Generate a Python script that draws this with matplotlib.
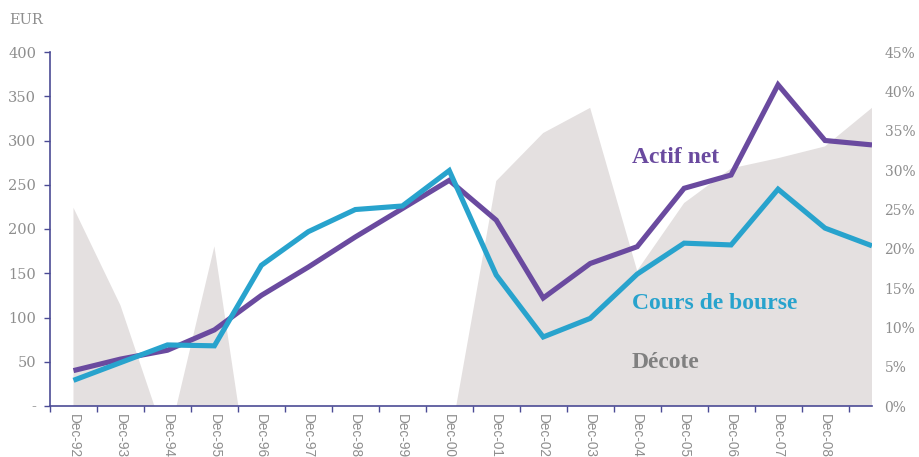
import matplotlib
matplotlib.use("Agg")
import matplotlib.pyplot as plt
import numpy as np

categories = ["Dec-92", "Dec-93", "Dec-94", "Dec-95", "Dec-96", "Dec-97", "Dec-98",
              "Dec-99", "Dec-00", "Dec-01", "Dec-02", "Dec-03", "Dec-04", "Dec-05",
              "Dec-06", "Dec-07", "Dec-08", ""]
actif_net = [40, 53, 63, 86, 125, 157, 191, 223, 255, 210, 122, 161, 180, 246, 261, 363, 300, 295]
cours_bourse = [29, 49, 69, 68, 159, 197, 222, 226, 266, 148, 78, 99, 149, 184, 182, 245, 201, 181]
decote = [25.2, 12.8, -4.9, 20.3, -19.5, -25, -16, -2, -5, 28.6, 34.7, 37.9, 17.2, 25.8,
          30.2, 31.5, 33.0, 37.9]
left_ticks = [0, 50, 100, 150, 200, 250, 300, 350, 400]
left_labels = ["-", "50", "100", "150", "200", "250", "300", "350", "400"]
right_ticks = [0, 5, 10, 15, 20, 25, 30, 35, 40, 45]
right_labels = ["0%", "5%", "10%", "15%", "20%", "25%", "30%", "35%", "40%", "45%"]

PURPLE = "#6A4A9F"
BLUE = "#28A3CD"
AREA = "#E4E0E0"
AXIS = "#4B4B95"
GREY = "#8E8E8E"

W, H = 920, 457
fig = plt.figure(figsize=(W / 100, H / 100), dpi=100)
ax = fig.add_axes([50 / W, 1 - 406 / H, (872 - 50) / W, (406 - 52) / H])
ax2 = ax.twinx()

x = np.arange(len(categories))

# area (decote) on right axis
ax2.fill_between(x, 0, decote, color=AREA, linewidth=0, zorder=1)
ax2.set_ylim(0, 45)
ax2.set_yticks(right_ticks)
ax2.set_yticklabels(right_labels, family="DejaVu Serif", fontsize=10, color=GREY)
ax2.tick_params(axis="y", which="major", length=0, pad=9)
ax2.set_yticks([0], minor=True)
ax2.tick_params(axis="y", which="minor", length=7, width=1.2, color=AXIS, direction="out")
for s in ax2.spines.values():
    s.set_visible(False)

# lines on left axis
ax.set_zorder(ax2.get_zorder() + 1)
ax.patch.set_visible(False)
ax.plot(x, actif_net, color=PURPLE, lw=3.7, solid_joinstyle="miter", solid_capstyle="butt", zorder=3)
ax.plot(x, cours_bourse, color=BLUE, lw=3.7, solid_joinstyle="miter", solid_capstyle="butt", zorder=4)

ax.set_xlim(-0.5, len(categories) - 1)
ax.set_ylim(0, 400)
ax.set_yticks(left_ticks)
ax.set_yticklabels(left_labels, family="DejaVu Serif", fontsize=10.5, color=GREY)
ax.tick_params(axis="y", length=4, width=1, color=AXIS, pad=6)

ax.set_xticks(x[:-1])
ax.set_xticklabels(categories[:-1], rotation=270, fontsize=9.8, color=GREY,
                   family="Liberation Sans", ha="center", va="top")
ax.tick_params(axis="x", which="major", length=0, pad=6)
ax.set_xticks(np.arange(-0.5, len(categories) - 1, 1.0), minor=True)
ax.tick_params(axis="x", which="minor", length=4, width=1, color=AXIS)

for side in ["top", "right"]:
    ax.spines[side].set_visible(False)
for side in ["left", "bottom"]:
    ax.spines[side].set_color(AXIS)
    ax.spines[side].set_linewidth(1.2)

fig.text(9 / W, 1 - 24 / H, "EUR", family="DejaVu Serif", fontsize=10.5, color=GREY,
         ha="left", va="baseline")

ax.text(632 / W, 1 - 163 / H, "Actif net", transform=fig.transFigure, family="Liberation Serif",
        fontweight="bold", fontsize=17, color=PURPLE, ha="left", va="baseline")
ax.text(632 / W, 1 - 309 / H, "Cours de bourse", transform=fig.transFigure, family="Liberation Serif",
        fontweight="bold", fontsize=17, color=BLUE, ha="left", va="baseline")
ax.text(632 / W, 1 - 368 / H, "Décote", transform=fig.transFigure, family="Liberation Serif",
        fontweight="bold", fontsize=17, color="#808080", ha="left", va="baseline")

fig.savefig("out.png", dpi=100)
